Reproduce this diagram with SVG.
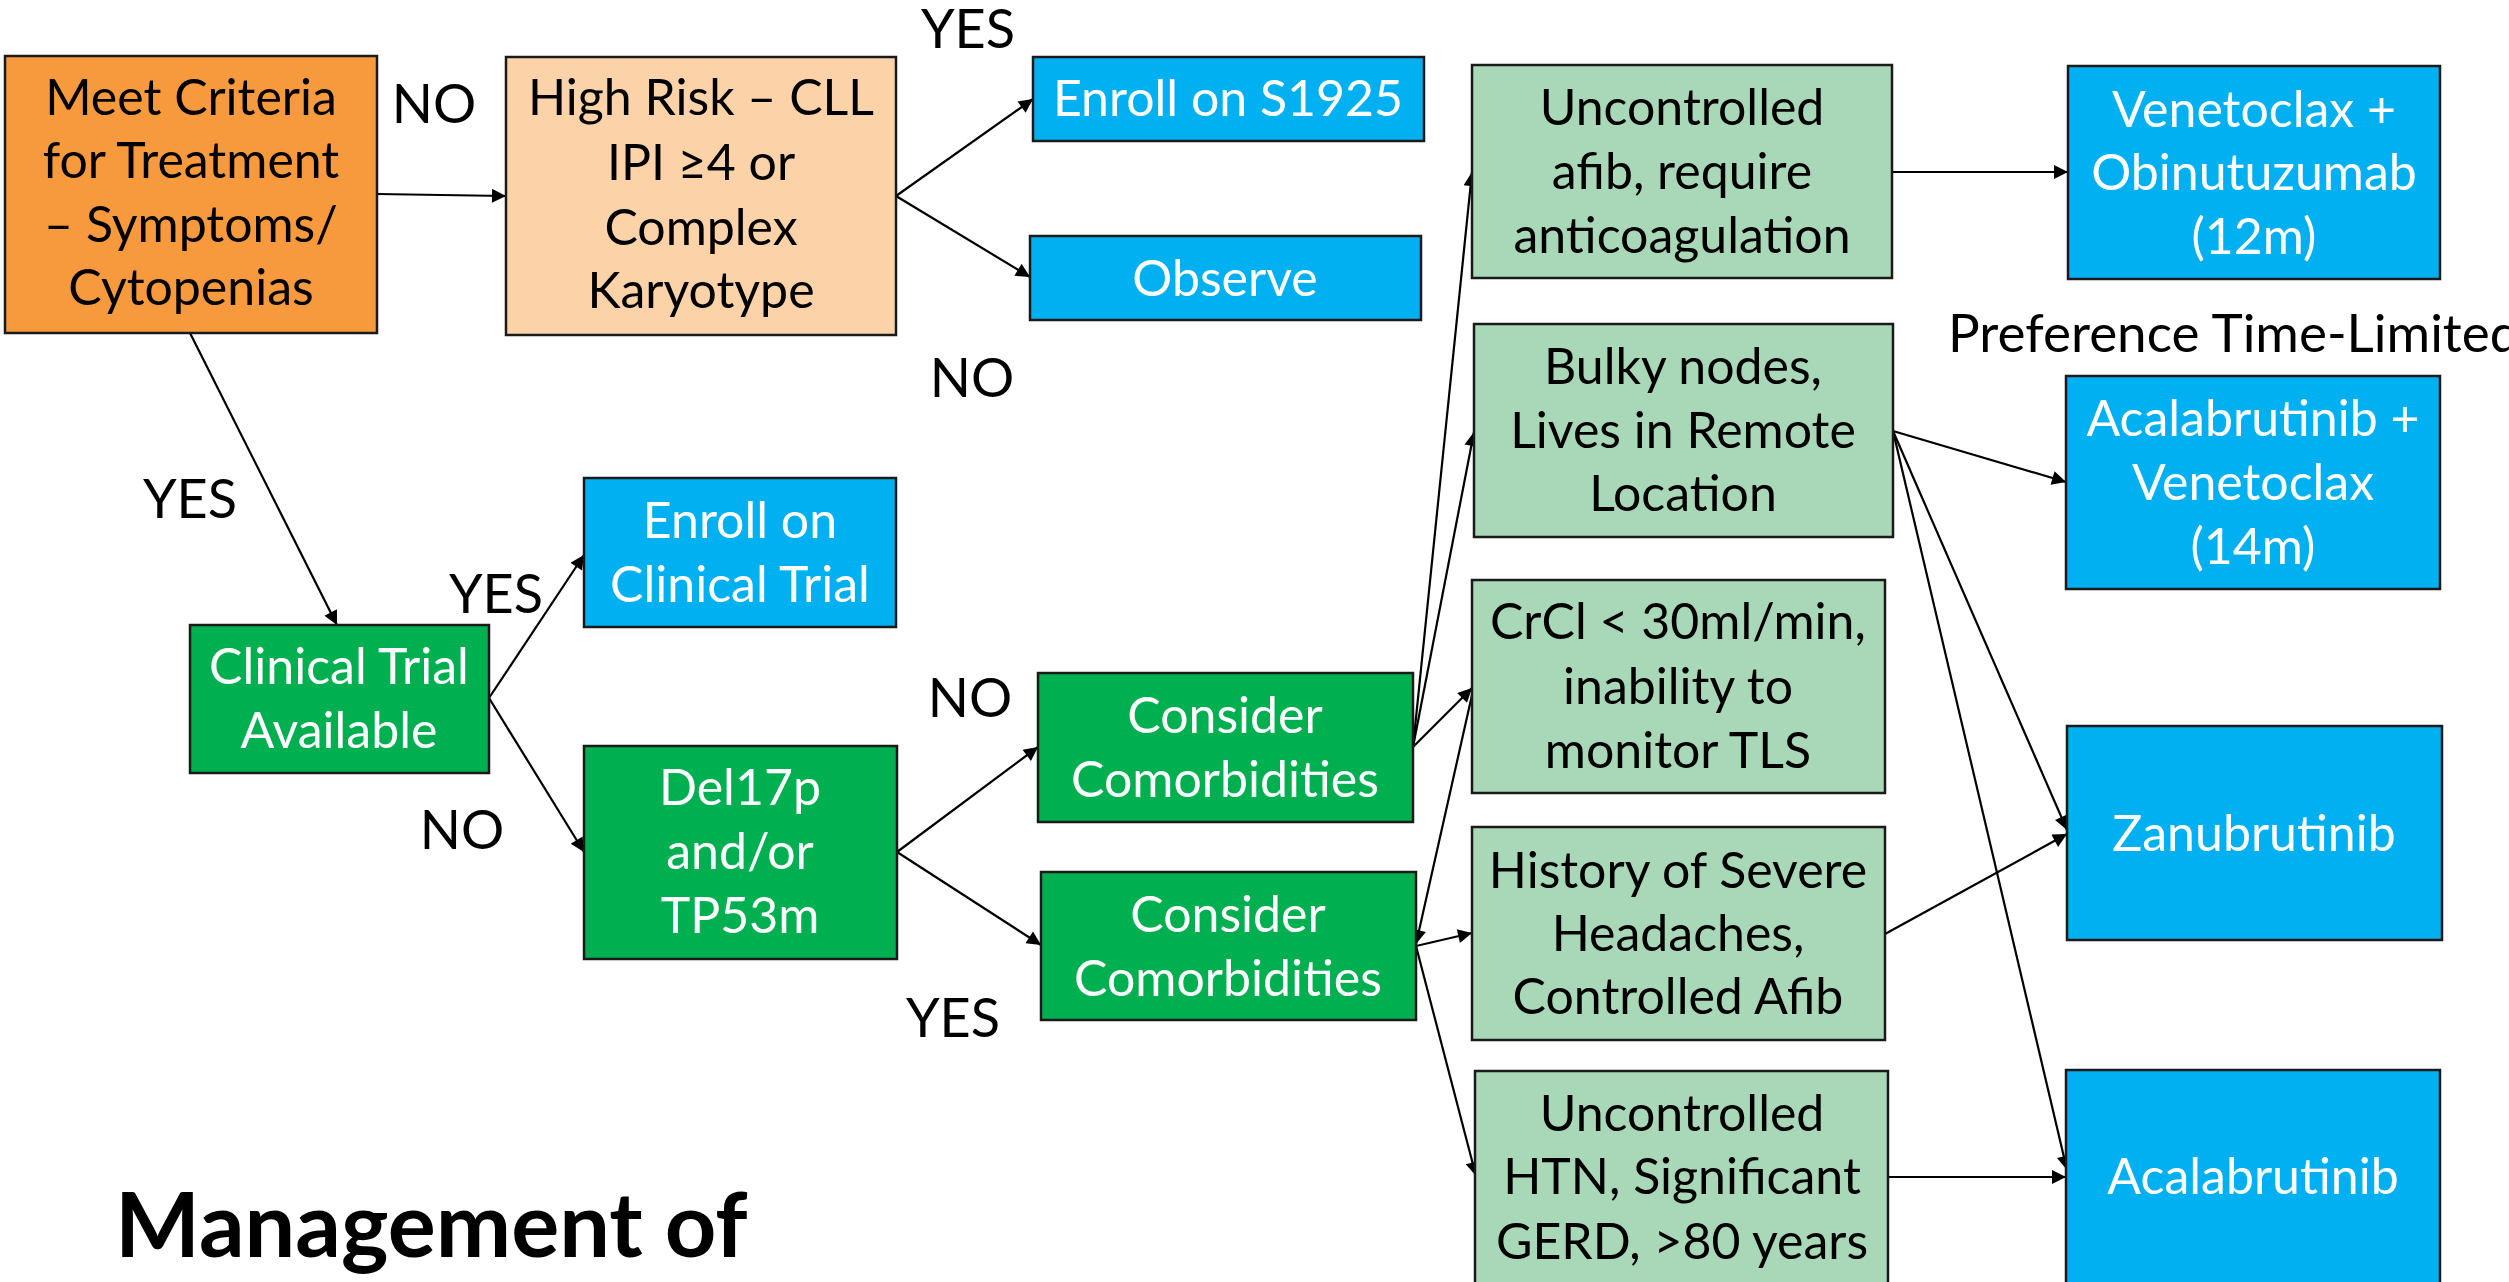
<svg xmlns="http://www.w3.org/2000/svg" width="2509" height="1282" viewBox="0 0 2509 1282">
<style>
  text { font-family: Lato, "Liberation Sans", sans-serif; }
  .t { font-size: 50px; text-anchor: middle; }
  .w { fill: #FFFFFF; }
  .k { fill: #000000; }
  .lbl { font-size: 54px; fill: #000; text-anchor: middle; }
  .box { stroke: #1a1a1a; stroke-width: 2.5; }
  .orange { fill: #F79A3E; }
  .peach { fill: #FCD3A8; }
  .blue { fill: #00B0F0; }
  .green { fill: #00B050; }
  .mint { fill: #A9D8B8; }
  .conn line { stroke: #000; stroke-width: 2.2; marker-end: url(#ah); }
  .title { font-size: 90px; font-weight: bold; fill: #000; }
</style>
<defs>
  <marker id="ah" viewBox="0 0 10 10" refX="10" refY="5" markerWidth="17" markerHeight="14" markerUnits="userSpaceOnUse" orient="auto">
    <path d="M0,0 L10,5 L0,10 z" fill="#000"/>
  </marker>
</defs>
<rect width="2509" height="1282" fill="#FFFFFF"/>

<g id="connectors" class="conn">
  <line x1="377" y1="194" x2="506" y2="196"/>
  <line x1="896" y1="196" x2="1033" y2="99"/>
  <line x1="896" y1="196" x2="1030" y2="277"/>
  <line x1="190" y1="333" x2="337" y2="625"/>
  <line x1="489" y1="698" x2="584" y2="555"/>
  <line x1="489" y1="698" x2="584" y2="852"/>
  <line x1="897" y1="852" x2="1038" y2="747"/>
  <line x1="897" y1="852" x2="1041" y2="945"/>
  <line x1="1413" y1="747" x2="1472" y2="172"/>
  <line x1="1413" y1="747" x2="1474" y2="432"/>
  <line x1="1413" y1="747" x2="1472" y2="688"/>
  <line x1="1472" y1="695" x2="1416" y2="944"/>
  <line x1="1416" y1="946" x2="1472" y2="933"/>
  <line x1="1416" y1="946" x2="1476" y2="1176"/>
  <line x1="1892" y1="172" x2="2068" y2="172"/>
  <line x1="1893" y1="431" x2="2066" y2="482"/>
  <line x1="1893" y1="431" x2="2067" y2="830"/>
  <line x1="1893" y1="431" x2="2067" y2="1170"/>
  <line x1="1885" y1="934" x2="2067" y2="834"/>
  <line x1="1888" y1="1177" x2="2066" y2="1177"/>
</g>

<g id="meet-criteria">
  <rect class="box orange" x="5" y="56" width="372" height="277"/>
  <text class="t k" x="191" y="115">Meet Criteria</text>
  <text class="t k" x="191" y="178">for Treatment</text>
  <text class="t k" x="191" y="242">– Symptoms/</text>
  <text class="t k" x="191" y="305">Cytopenias</text>
</g>
<g id="high-risk">
  <rect class="box peach" x="506" y="57" width="390" height="278"/>
  <text class="t k" x="701" y="115">High Risk – CLL</text>
  <text class="t k" x="701" y="180">IPI ≥4 or</text>
  <text class="t k" x="701" y="245">Complex</text>
  <text class="t k" x="701" y="308">Karyotype</text>
</g>
<g id="enroll-s1925">
  <rect class="box blue" x="1033" y="57" width="391" height="84"/>
  <text class="t w" x="1228" y="116">Enroll on S1925</text>
</g>
<g id="observe">
  <rect class="box blue" x="1030" y="236" width="391" height="84"/>
  <text class="t w" x="1225" y="296">Observe</text>
</g>
<g id="clinical-trial-available">
  <rect class="box green" x="190" y="625" width="299" height="148"/>
  <text class="t w" x="339" y="684">Clinical Trial</text>
  <text class="t w" x="339" y="748">Available</text>
</g>
<g id="enroll-clinical-trial">
  <rect class="box blue" x="584" y="478" width="312" height="149"/>
  <text class="t w" x="740" y="538">Enroll on</text>
  <text class="t w" x="740" y="602">Clinical Trial</text>
</g>
<g id="del17p">
  <rect class="box green" x="584" y="746" width="313" height="213"/>
  <text class="t w" x="740" y="805">Del17p</text>
  <text class="t w" x="740" y="869">and/or</text>
  <text class="t w" x="740" y="933">TP53m</text>
</g>
<g id="consider-comorbidities-1">
  <rect class="box green" x="1038" y="673" width="375" height="149"/>
  <text class="t w" x="1225" y="733">Consider</text>
  <text class="t w" x="1225" y="797">Comorbidities</text>
</g>
<g id="consider-comorbidities-2">
  <rect class="box green" x="1041" y="872" width="375" height="148"/>
  <text class="t w" x="1228" y="932">Consider</text>
  <text class="t w" x="1228" y="996">Comorbidities</text>
</g>
<g id="uncontrolled-afib">
  <rect class="box mint" x="1472" y="65" width="420" height="213"/>
  <text class="t k" x="1682" y="125">Uncontrolled</text>
  <text class="t k" x="1682" y="189">afib, require</text>
  <text class="t k" x="1682" y="253">anticoagulation</text>
</g>
<g id="bulky-nodes">
  <rect class="box mint" x="1474" y="324" width="419" height="213"/>
  <text class="t k" x="1683" y="384">Bulky nodes,</text>
  <text class="t k" x="1683" y="448">Lives in Remote</text>
  <text class="t k" x="1683" y="511">Location</text>
</g>
<g id="crcl">
  <rect class="box mint" x="1472" y="580" width="413" height="213"/>
  <text class="t k" x="1678" y="639">CrCl &lt; 30ml/min,</text>
  <text class="t k" x="1678" y="704">inability to</text>
  <text class="t k" x="1678" y="768">monitor TLS</text>
</g>
<g id="headaches">
  <rect class="box mint" x="1472" y="827" width="413" height="213"/>
  <text class="t k" x="1678" y="888">History of Severe</text>
  <text class="t k" x="1678" y="951">Headaches,</text>
  <text class="t k" x="1678" y="1014">Controlled Afib</text>
</g>
<g id="uncontrolled-htn">
  <rect class="box mint" x="1475" y="1071" width="413" height="230"/>
  <text class="t k" x="1682" y="1131">Uncontrolled</text>
  <text class="t k" x="1682" y="1194">HTN, Significant</text>
  <text class="t k" x="1682" y="1259">GERD, &gt;80 years</text>
</g>
<g id="venetoclax-obinutuzumab">
  <rect class="box blue" x="2068" y="66" width="372" height="213"/>
  <text class="t w" x="2254" y="127">Venetoclax +</text>
  <text class="t w" x="2254" y="190">Obinutuzumab</text>
  <text class="t w" x="2254" y="254">(12m)</text>
</g>
<g id="acalabrutinib-venetoclax">
  <rect class="box blue" x="2066" y="376" width="374" height="213"/>
  <text class="t w" x="2253" y="436">Acalabrutinib +</text>
  <text class="t w" x="2253" y="500">Venetoclax</text>
  <text class="t w" x="2253" y="564">(14m)</text>
</g>
<g id="zanubrutinib">
  <rect class="box blue" x="2067" y="726" width="375" height="214"/>
  <text class="t w" x="2254" y="851">Zanubrutinib</text>
</g>
<g id="acalabrutinib">
  <rect class="box blue" x="2066" y="1070" width="374" height="240"/>
  <text class="t w" x="2253" y="1194">Acalabrutinib</text>
</g>

<g id="labels">
  <text class="lbl" x="434" y="123">NO</text>
  <text class="lbl" x="968" y="48">YES</text>
  <text class="lbl" x="972" y="397">NO</text>
  <text class="lbl" x="190" y="518">YES</text>
  <text class="lbl" x="496" y="613">YES</text>
  <text class="lbl" x="462" y="849">NO</text>
  <text class="lbl" x="970" y="717">NO</text>
  <text class="lbl" x="953" y="1037">YES</text>
  <text style="font-size:53px;fill:#000" x="1948" y="352">Preference Time-Limited</text>
</g>

<g id="title">
  <text class="title" x="115" y="1257">Management of</text>
</g>
</svg>
